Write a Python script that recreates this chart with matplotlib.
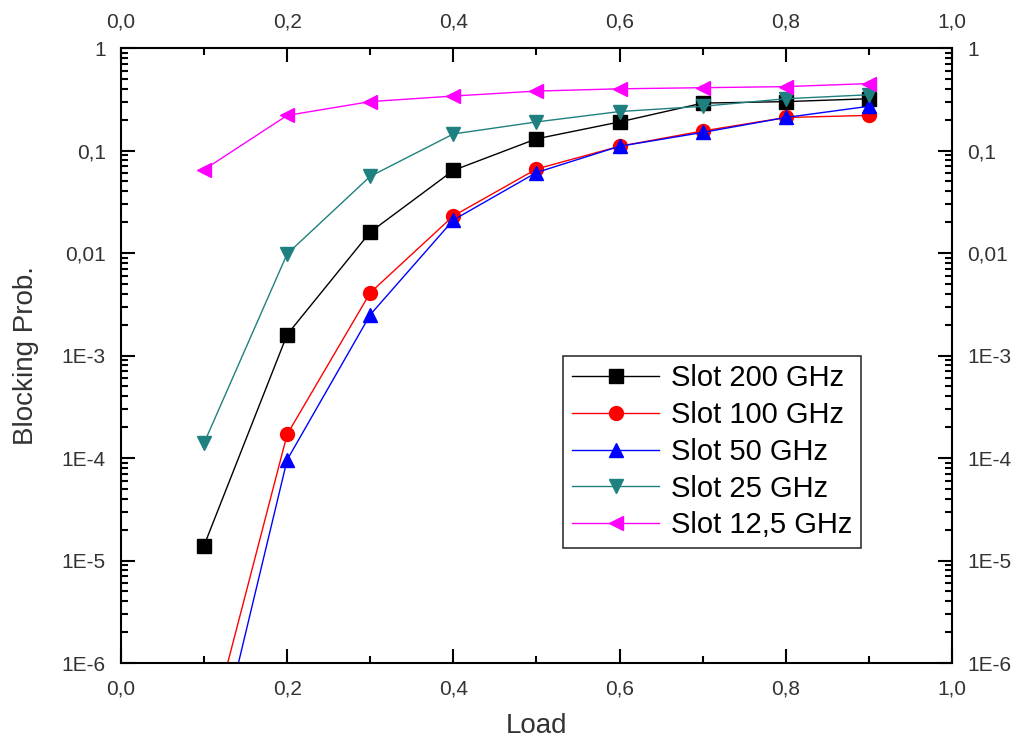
import numpy as np
import matplotlib.pyplot as plt
from matplotlib.ticker import FixedLocator, FuncFormatter, LogLocator, NullFormatter, MultipleLocator

plt.rcParams['font.family'] = ['Liberation Sans', 'DejaVu Sans']

load = [0.1, 0.2, 0.3, 0.4, 0.5, 0.6, 0.7, 0.8, 0.9]
slot_200 = [1.4e-5, 1.6e-3, 0.016, 0.064, 0.13, 0.19, 0.29, 0.30, 0.32]
slot_100 = [1.3e-7, 1.7e-4, 4.1e-3, 0.023, 0.066, 0.11, 0.155, 0.21, 0.22]
slot_50 = [4e-8, 9.6e-5, 2.5e-3, 0.021, 0.061, 0.11, 0.15, 0.21, 0.27]
slot_25 = [1.4e-4, 0.0098, 0.056, 0.145, 0.19, 0.24, 0.27, 0.32, 0.35]
slot_12 = [0.065, 0.22, 0.30, 0.34, 0.38, 0.40, 0.41, 0.42, 0.45]

series = [
    ('Slot 200 GHz', slot_200, 'black', 's'),
    ('Slot 100 GHz', slot_100, 'red', 'o'),
    ('Slot 50 GHz', slot_50, 'blue', '^'),
    ('Slot 25 GHz', slot_25, '#1f8080', 'v'),
    ('Slot 12,5 GHz', slot_12, 'magenta', '<'),
]

y_ticks = [1e-6, 1e-5, 1e-4, 1e-3, 0.01, 0.1, 1]
y_labels = ['1E-6', '1E-5', '1E-4', '1E-3', '0,01', '0,1', '1']

fig = plt.figure(figsize=(10.19, 7.49), dpi=100)
ax = fig.add_axes([0.1187, 0.1148, 0.8155, 0.8211])

for name, vals, col, mk in series:
    ax.plot(load, vals, color=col, marker=mk, markersize=10, linewidth=1, label=name)

ax.set_yscale('log')
ax.set_xlim(0, 1)
ax.set_ylim(1e-6, 1)

ax.xaxis.set_major_locator(MultipleLocator(0.2))
ax.xaxis.set_minor_locator(MultipleLocator(0.1))
ax.xaxis.set_major_formatter(FuncFormatter(lambda v, p: f'{v:.1f}'.replace('.', ',')))
ax.yaxis.set_major_locator(FixedLocator(y_ticks))
ax.yaxis.set_major_formatter(FuncFormatter(lambda v, p: y_labels[int(round(np.log10(v))) + 6]))
ax.yaxis.set_minor_locator(LogLocator(base=10, subs=np.arange(2, 10)))
ax.yaxis.set_minor_formatter(NullFormatter())

ax.tick_params(which='both', direction='in', top=True, right=True,
               labeltop=True, labelright=True, labelsize=15, labelcolor='#333333', width=1.5)
ax.tick_params(which='major', length=10)
ax.tick_params(which='minor', length=5)
ax.tick_params(axis='x', which='major', pad=12)
ax.tick_params(axis='y', which='major', pad=11)
for s in ax.spines.values():
    s.set_linewidth(1.5)

ax.set_xlabel('Load', fontsize=20, color='#333333', labelpad=10)
ax.set_ylabel('Blocking Prob.', fontsize=20, color='#333333', labelpad=16)

leg = ax.legend(loc='lower left', bbox_to_anchor=(0.532, 0.187), fontsize=21,
                frameon=True, fancybox=False, edgecolor='black', handlelength=3.0,
                borderpad=0.3, labelspacing=0.3, handletextpad=0.4, borderaxespad=0)
leg.get_frame().set_linewidth(1.2)

fig.savefig('out.png', dpi=100)
